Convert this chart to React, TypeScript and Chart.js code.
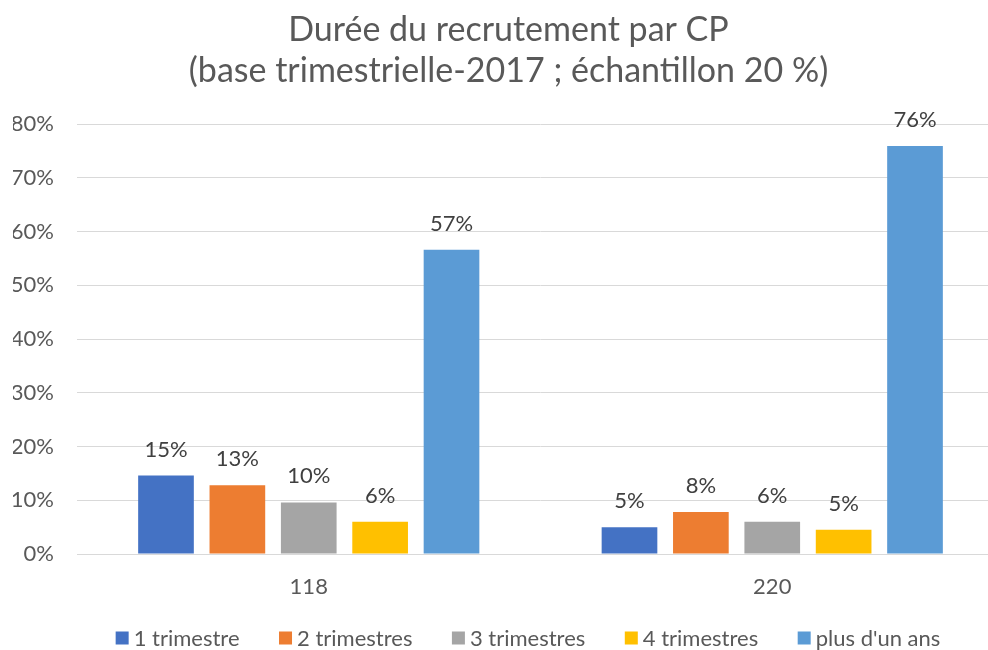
import React, { useEffect, useRef } from "react";
import { Chart, registerables } from "chart.js";

Chart.register(...registerables);

const categories = ["118", "220"];
const seriesNames = ["1 trimestre", "2 trimestres", "3 trimestres", "4 trimestres", "plus d'un ans"];
const seriesColors = ["#4472C4", "#ED7D31", "#A5A5A5", "#FFC000", "#5B9BD5"];
const s1 = [0.146, 0.05];
const s2 = [0.128, 0.078];
const s3 = [0.096, 0.06];
const s4 = [0.06, 0.045];
const s5 = [0.566, 0.759];
const titleLines = ["Durée du recrutement par CP", "(base trimestrielle-2017 ; échantillon 20 %)"];

const FONT = "Lato, 'Open Sans', sans-serif";

const labelPlugin = {
  id: "barLabels",
  afterDatasetsDraw(chart: any) {
    const ctx = chart.ctx;
    ctx.save();
    ctx.font = `22px ${FONT}`;
    ctx.fillStyle = "#404040";
    ctx.textAlign = "center";
    ctx.textBaseline = "middle";
    chart.data.datasets.forEach((ds: any, i: number) => {
      const meta = chart.getDatasetMeta(i);
      meta.data.forEach((bar: any, j: number) => {
        const v = ds.data[j];
        ctx.fillText(Math.round(v * 100) + "%", bar.x, bar.y - 26);
      });
    });
    ctx.restore();
  },
};

const legendPlugin = {
  id: "customLegend",
  afterDraw(chart: any) {
    const ctx = chart.ctx;
    ctx.save();
    ctx.font = `22px ${FONT}`;
    ctx.textBaseline = "middle";
    ctx.textAlign = "left";
    const box = 13;
    const gapBoxText = 5;
    const gapItems = 39.5;
    const items = chart.data.datasets.map((ds: any) => ({
      label: ds.label,
      color: ds.backgroundColor,
      w: ctx.measureText(ds.label).width,
    }));
    const total = items.reduce((a: number, it: any) => a + box + gapBoxText + it.w, 0) + gapItems * (items.length - 1);
    let x = 528 - total / 2;
    const y = 638;
    items.forEach((it: any) => {
      ctx.fillStyle = it.color;
      ctx.fillRect(x, y - box / 2, box, box);
      ctx.fillStyle = "#595959";
      ctx.fillText(it.label, x + box + gapBoxText, y + 1);
      x += box + gapBoxText + it.w + gapItems;
    });
    ctx.restore();
  },
};

export default function App() {
  const ref = useRef<HTMLCanvasElement>(null);
  useEffect(() => {
    const all = [s1, s2, s3, s4, s5];
    const chart = new Chart(ref.current!, {
      type: "bar",
      data: {
        labels: categories,
        datasets: all.map((d, i) => ({
          label: seriesNames[i],
          data: d,
          backgroundColor: seriesColors[i],
          barPercentage: 0.78,
          categoryPercentage: 0.77,
        })),
      },
      options: {
        animation: false,
        responsive: false,
        maintainAspectRatio: false,
        layout: { padding: { left: 13, right: 20, top: 0, bottom: 49.6 } },
        plugins: {
          title: {
            display: true,
            text: titleLines,
            color: "#595959",
            font: { family: FONT, size: 34, weight: "normal", lineHeight: 1.2 },
            padding: { top: 10, bottom: 32.4 },
          },
          legend: { display: false },
          tooltip: { enabled: false },
        },
        scales: {
          x: {
            grid: { display: false, drawTicks: false },
            border: { color: "#d9d9d9", width: 1 },
            ticks: { color: "#595959", font: { family: FONT, size: 22 }, padding: 20 },
            afterFit: (s: any) => {
              s.height = 46.4;
            },
          },
          y: {
            min: 0,
            max: 0.8,
            grid: { color: "#d9d9d9", drawTicks: false },
            border: { display: false },
            ticks: {
              stepSize: 0.1,
              color: "#595959",
              font: { family: FONT, size: 22 },
              padding: 23,
              callback: (v: any) => Math.round(Number(v) * 100) + "%",
            },
            afterFit: (s: any) => {
              s.width = 64;
            },
          },
        },
      },
      plugins: [labelPlugin, legendPlugin],
    });
    return () => chart.destroy();
  }, []);
  return (
    <div style={{ position: "fixed", left: 0, top: 0, width: 988, height: 650, overflow: "hidden", background: "#fff" }}>
      <canvas ref={ref} width={1024} height={650} style={{ display: "block" }} />
    </div>
  );
}
